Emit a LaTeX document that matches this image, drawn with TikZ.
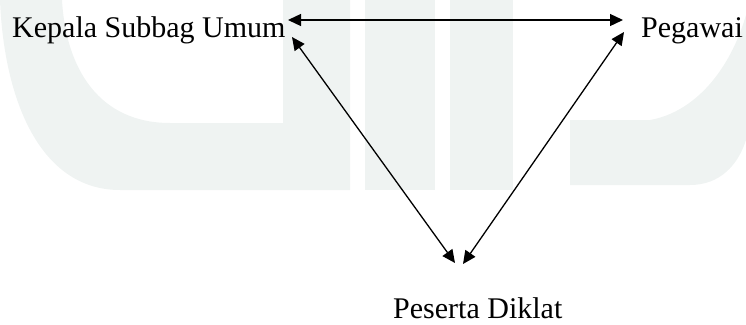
\documentclass[tikz,border=0pt]{standalone}
\usepackage{fontspec}
\setmainfont{Liberation Serif}
\usetikzlibrary{arrows.meta}
\definecolor{wm}{RGB}{239,243,242}
\tikzset{
  lbl/.style={anchor=base west, inner sep=0pt, text depth=0pt, font=\fontsize{30}{36}\selectfont},
  link/.style={{Triangle[length=13pt,width=12pt]}-{Triangle[length=13pt,width=12pt]}, line width=1.3pt}
}
\begin{document}
\begin{tikzpicture}[x=1pt,y=-1pt]
\useasboundingbox (0,0) rectangle (746,324);
% faint watermark
\fill[wm, even odd rule] (0,0) .. controls (4,100) and (40,190) .. (120,190) -- (350,190) -- (350,0) -- cycle
  (62,0) .. controls (66,70) and (100,123) .. (170,123) -- (283,123) -- (283,0) -- cycle;
\fill[wm] (365,0) rectangle (435,190);
\fill[wm] (450,0) rectangle (513,190);
\fill[wm] (570,120) -- (650,120) .. controls (695,112) and (730,70) .. (746,15) -- (746,140)
  .. controls (738,165) and (720,185) .. (690,185) -- (570,185) -- cycle;
% labels
\node[lbl] (ksu) at (12,37) {Kepala Subbag Umum};
\node[lbl] (peg) at (641,37) {Pegawai};
\node[lbl] (pd) at (393,318) {Peserta Diklat};
% arrow end points
\coordinate (ksuR) at (288,20);
\coordinate (ksuB) at (292,37);
\coordinate (pegL) at (623,20);
\coordinate (pegB) at (624,32);
\coordinate (pdL) at (455,263);
\coordinate (pdR) at (463,264);
\draw[link] (ksuR) -- (pegL);
\draw[link] (ksuB) -- (pdL);
\draw[link] (pegB) -- (pdR);
\end{tikzpicture}
\end{document}
